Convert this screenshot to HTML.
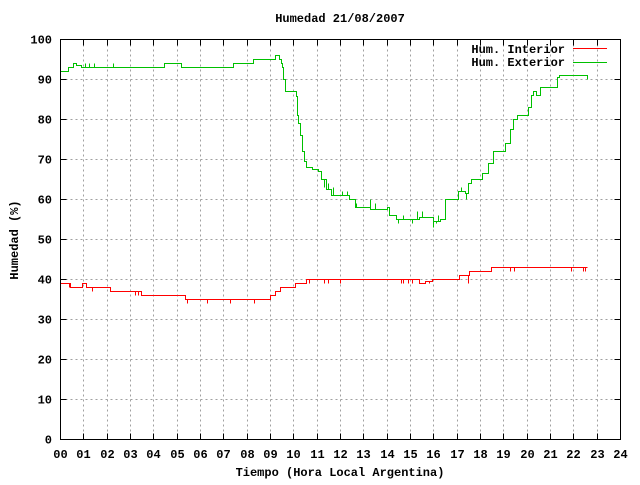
<!DOCTYPE html>
<html><head><meta charset="utf-8"><style>
body{margin:0;background:#fff}
svg text{font-family:"Liberation Mono","DejaVu Sans Mono",monospace;font-weight:bold;font-size:12px;fill:#000}
</style></head><body>
<svg id="chart" width="640" height="480" xmlns="http://www.w3.org/2000/svg">
<rect width="640" height="480" fill="#fff"/>
<g id="grid" shape-rendering="crispEdges"></g>
<g id="ticks"></g>
<g id="series" shape-rendering="crispEdges"></g>
<rect x="60.5" y="39.5" width="560" height="400" fill="none" stroke="#000" shape-rendering="crispEdges"/>
<text x="340" y="22" text-anchor="middle">Humedad 21/08/2007</text>
<text x="340" y="476" text-anchor="middle">Tiempo (Hora Local Argentina)</text>
<text x="18" y="240" text-anchor="middle" transform="rotate(-90 18 240)">Humedad (%)</text>
<g shape-rendering="crispEdges">
<text x="565" y="53" text-anchor="end">Hum. Interior</text>
<line x1="573" y1="48.5" x2="607" y2="48.5" stroke="#ff0000"/>
<text x="565" y="66" text-anchor="end">Hum. Exterior</text>
<line x1="573" y1="62.5" x2="607" y2="62.5" stroke="#00c000"/>
</g>
</svg>
<script>
const xTicks=["00","01","02","03","04","05","06","07","08","09","10","11","12","13","14","15","16","17","18","19","20","21","22","23","24"];
const yTicks=[0,10,20,30,40,50,60,70,80,90,100];
const extHours=[0,0.35,0.55,0.7,0.9,1.5,4.45,5.2,7.4,8.25,9.2,9.4,9.45,9.5,9.55,9.65,10.0,10.1,10.15,10.2,10.3,10.35,10.45,10.55,10.8,11.06,11.2,11.4,11.6,12.0,12.4,12.65,13.0,13.3,14.0,14.1,14.4,15.1,15.4,16.0,16.3,16.5,17.0,17.05,17.35,17.5,17.6,18.0,18.1,18.35,18.55,19.0,19.07,19.3,19.4,19.6,20.0,20.05,20.2,20.25,20.4,20.57,21.2,21.3,21.4,22.58,22.6];
const extValues=[92,93,94,93.5,93,93,94,93,94,95,96,95,94,93,90,87,87,85.7,81,79,76,72,69.6,68,67.5,67,65,62.6,61,61,60,58,58,57.5,58,56,55,55,55.6,54.6,55,60,60,62,61.5,64,65,65,66.5,69,72,72,74,77.6,80,81,81,83,86,87,86,88,88,90.5,91,91,90];
const extSpikeHours=[1.05,1.25,1.45,2.25,11.3,11.5,11.7,12.1,12.3,12.5,12.7,13.3,13.5,14.2,14.5,14.7,15.1,15.3,15.5,16.0,16.1,16.2,17.2,17.4];
const extSpikeValues=[94,94,94,94,63,64,63,62,62,60,59,60,59,56,54,56,54,57,57,53,54,56,63,60];
const intHours=[0,0.44,0.96,1.12,2.16,3.45,5.37,9.02,9.21,9.42,10.08,10.53,15.4,15.63,15.95,17.1,17.54,18.45,22.58];
const intValues=[39,38,39,38,37,36,35,36,37,38,39,40,39,39.5,40,41,42,43,43];
const intSpikeHours=[0.4,1.35,3.2,3.35,5.45,6.3,7.3,8.3,10.65,11.3,11.5,12.0,14.6,14.7,14.9,15.1,15.8,17.5,19.3,19.45,21.9,22.4,22.5];
const intSpikeValues=[38,37,36,36,34,34,34,34,39,39,39,39,39,39,39,39,39,39,42,42,42,42,42];
const X0=60.5,X1=620.5,Y0=439.5,Y1=39.5;
function xs(h){return Math.round(X0+(X1-X0)*h/24-0.5)+0.5;}
function ys(v){return Math.round(Y0-(Y0-Y1)*v/100-0.5)+0.5;}
const NS="http://www.w3.org/2000/svg";
const grid=document.getElementById('grid'),ticks=document.getElementById('ticks'),series=document.getElementById('series');
function mk(tag,attrs,parent){const e=document.createElementNS(NS,tag);for(const k in attrs)e.setAttribute(k,attrs[k]);parent.appendChild(e);return e;}
xTicks.forEach((t,i)=>{
  const x=xs(i);
  if(i>0&&i<24){const g=mk('line',{x1:x,y1:Y1,x2:x,y2:Y0,stroke:'#a0a0a0','stroke-dasharray':'2,3'},grid);
  
  }
  const a=mk('line',{x1:x,y1:Y0,x2:x,y2:Y0-6,stroke:'#000','shape-rendering':'crispEdges'},ticks);
  
  
  const b=mk('line',{x1:x,y1:Y1,x2:x,y2:Y1+6,stroke:'#000','shape-rendering':'crispEdges'},ticks);
  
  
  const tx=mk('text',{x:x,y:458,'text-anchor':'middle'},ticks);tx.textContent=t;
  
  
});
yTicks.forEach(v=>{
  const y=ys(v);
  if(v>0&&v<100){const g=mk('line',{x1:X0,y1:y,x2:X1,y2:y,stroke:'#a0a0a0','stroke-dasharray':'2,3'},grid);
  
  }
  const a=mk('line',{x1:X0,y1:y,x2:X0+6,y2:y,stroke:'#000','shape-rendering':'crispEdges'},ticks);
  
  
  const b=mk('line',{x1:X1,y1:y,x2:X1-6,y2:y,stroke:'#000','shape-rendering':'crispEdges'},ticks);
  
  
  const tx=mk('text',{x:52,y:y+4,'text-anchor':'end'},ticks);tx.textContent=v;
  
  
});
function stepPath(hs,vs){let d='M'+xs(hs[0])+','+ys(vs[0]);for(let i=1;i<hs.length;i++){d+=' H'+xs(hs[i])+' V'+ys(vs[i]);}return d;}
function valueAt(hs,vs,h){let v=vs[0];for(let i=0;i<hs.length;i++){if(hs[i]<=h)v=vs[i];}return v;}
function spikePath(hs,vs,sh,sv){let d='';for(let i=0;i<sh.length;i++){const x=xs(sh[i]);d+='M'+x+','+ys(valueAt(hs,vs,sh[i]))+' V'+ys(sv[i])+' ';}return d;}
const pi=mk('path',{d:stepPath(intHours,intValues),fill:'none',stroke:'#ff0000','stroke-width':1},series);


const si=mk('path',{d:spikePath(intHours,intValues,intSpikeHours,intSpikeValues),fill:'none',stroke:'#ff0000','stroke-width':1},series);


const pe=mk('path',{d:stepPath(extHours,extValues),fill:'none',stroke:'#00c000','stroke-width':1},series);


const se=mk('path',{d:spikePath(extHours,extValues,extSpikeHours,extSpikeValues),fill:'none',stroke:'#00c000','stroke-width':1},series);


</script>
</body></html>
